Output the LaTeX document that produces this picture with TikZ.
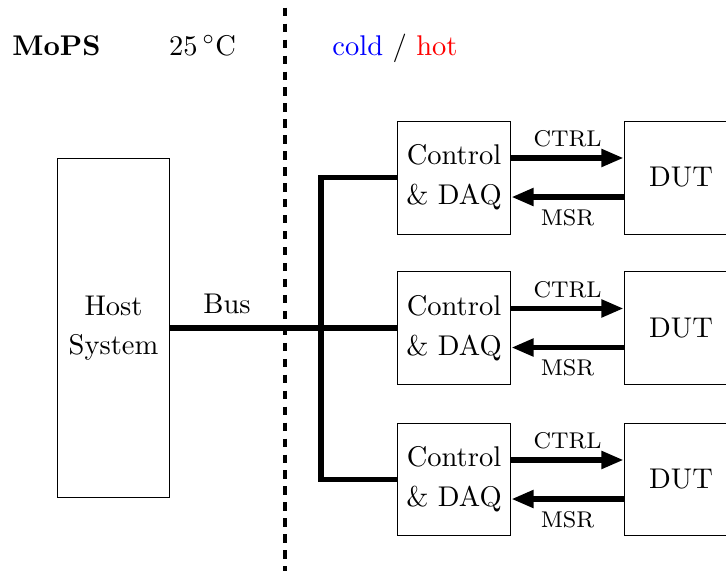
\documentclass[tikz,border=0pt]{standalone}
\usetikzlibrary{arrows.meta}
\begin{document}
\begin{tikzpicture}[
  x={(0.3509pt,0)}, y={(0,-0.3509pt)},
  box/.style={draw, line width=0.35pt, inner sep=0pt, align=center,
    font=\fontsize{10}{13.9}\selectfont},
  unitbox/.style={box, minimum width=40pt, minimum height=39.65pt},
  bus/.style={line width=1.8pt, line join=miter},
  sig/.style={line width=1.8pt, -{Triangle[length=7.8pt,width=6pt]}},
  siglabel/.style={font=\footnotesize, inner sep=0pt},
  divider/.style={line width=1.15pt, dash pattern=on 2.9pt off 2.7pt, dash phase=2.9pt},
  toplabel/.style={anchor=base, inner sep=0pt}
]
\useasboundingbox (0,0) rectangle (726,571);

% temperature zones
\draw[divider] (285,0) -- (285,571);
\node[toplabel] (title) at (56.5,55) {\textbf{MoPS}};
\node[toplabel] (room) at (202.5,55) {$25\,^{\circ}\mathrm{C}$};
\node[toplabel] (zone) at (395,55) {\textcolor{blue}{cold} / \textcolor{red}{hot}};

% host
\node[box, minimum width=39.65pt, minimum height=119.3pt] (host) at (113.5,328) {Host\\System};

% control units and devices under test
\foreach \i/\yy in {1/177.5, 2/328, 3/479.5} {
  \node[unitbox] (ctl\i) at (454,\yy) {Control\\\& DAQ};
  \node[unitbox] (dut\i) at (681,\yy) {DUT};
  \draw[sig] ([yshift=6.85pt]ctl\i.east) -- ([yshift=6.85pt]dut\i.west)
    node[siglabel, midway, above=2.9pt] {CTRL};
  \draw[sig] ([yshift=-6.85pt]dut\i.west) -- ([yshift=-6.85pt]ctl\i.east)
    node[siglabel, midway, below=3.4pt] {MSR};
}

% bus
\coordinate (bj) at (321,328);
\draw[bus] (host.east) -- (ctl2.west);
\draw[bus] (ctl1.west) -| (bj) |- (ctl3.west);
\node[toplabel] (buslabel) at (227,313) {Bus};
\end{tikzpicture}
\end{document}
